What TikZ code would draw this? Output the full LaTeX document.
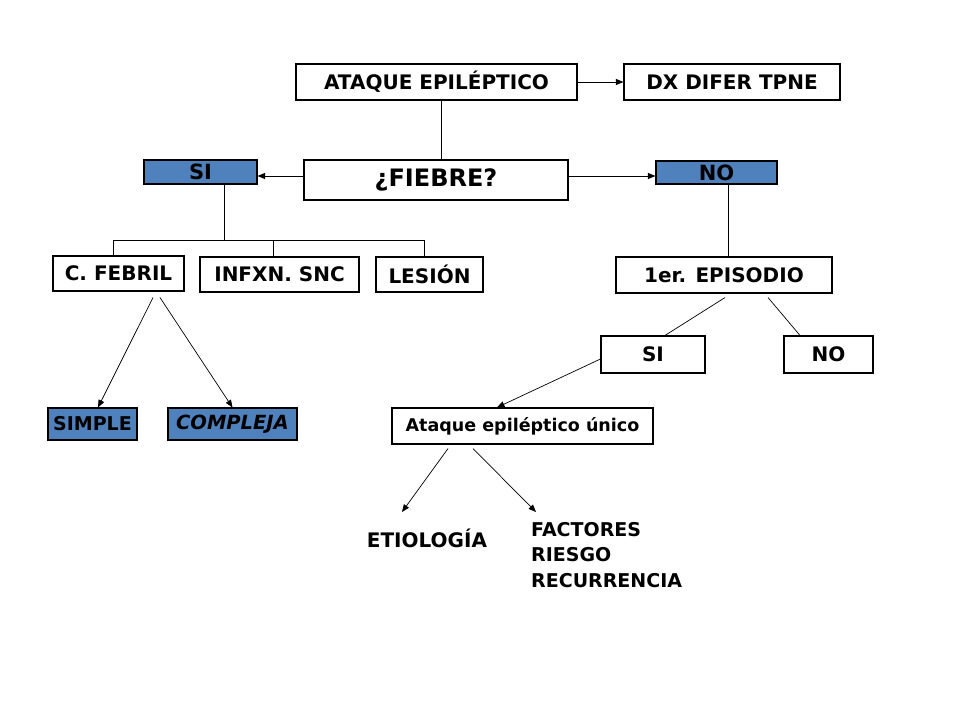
\documentclass[tikz,border=0pt]{standalone}
\usepackage{fontspec}
\setmainfont{DejaVu Sans}
\usetikzlibrary{arrows.meta}
\definecolor{boxblue}{RGB}{79,129,189}
\begin{document}
\begin{tikzpicture}[x=1pt,y=-1pt,
  box/.style={draw=black, line width=1.1pt, fill=white, inner sep=0pt,
    font=\bfseries\fontsize{20}{24}\selectfont},
  bluebox/.style={box, fill=boxblue},
  conn/.style={draw=black, line width=0.9pt},
  arr/.style={conn, -{Triangle[length=7.5pt,width=6pt]}},
  plain/.style={inner sep=0pt, font=\bfseries\fontsize{19}{25.5}\selectfont, align=left}]
\useasboundingbox[fill=white] (0,0) rectangle (960,720);

% nodes
\node[box, minimum width=281pt, minimum height=36pt] (ata) at (436.5,82) {ATAQUE EPILÉPTICO};
\node[box, minimum width=216pt, minimum height=36pt] (dx) at (732,82) {DX DIFER TPNE};
\node[box, minimum width=264pt, minimum height=40pt, font=\bfseries\fontsize{24}{28}\selectfont] (fie) at (436,180) {¿FIEBRE?};
\node[bluebox, minimum width=113pt, minimum height=24pt, font=\bfseries\fontsize{21}{24}\selectfont] (si1) at (200.5,172) {SI};
\node[bluebox, minimum width=121pt, minimum height=23pt, font=\bfseries\fontsize{21}{24}\selectfont] (no1) at (716.5,172.5) {NO};
\node[box, minimum width=131pt, minimum height=35pt] (feb) at (118.5,273.5) {C. FEBRIL};
\node[box, minimum width=159pt, minimum height=35pt] (inf) at (279.5,274.5) {INFXN. SNC};
\node[box, minimum width=107pt, minimum height=35pt] (les) at (429.5,274.5) {LESIÓN};
\node[box, minimum width=216pt, minimum height=36pt] (epi) at (724,275) {1er. EPISODIO};
\node[box, minimum width=104pt, minimum height=37pt] (si2) at (653,354.5) {SI};
\node[box, minimum width=89pt, minimum height=37pt] (no2) at (828.5,354.5) {NO};
\node[box, minimum width=261pt, minimum height=36pt, font=\bfseries\fontsize{17.5}{21}\selectfont] (uni) at (522.5,426) {Ataque epiléptico único};
\node[bluebox, minimum width=89pt, minimum height=32pt, font=\bfseries\fontsize{19}{24}\selectfont] (sim) at (92.5,424) {SIMPLE};
\node[bluebox, minimum width=129pt, minimum height=32pt, font=\bfseries\itshape\fontsize{19.5}{24}\selectfont] (com) at (232.5,424) {COMPLEJA};
\node[plain, font=\bfseries\fontsize{20}{24}\selectfont] (eti) at (427,538) {ETIOLOGÍA};
\node[plain, anchor=west] (fac) at (531,555) {FACTORES\\RIESGO\\RECURRENCIA};

% free ends and bus points
\coordinate (etiA) at (402,512);
\coordinate (facA) at (536,512);
\coordinate (busL) at (113,240);
\coordinate (busM) at (273,240);
\coordinate (busR) at (424,240);
\coordinate (busC) at (224,240);

% connectors
\draw[arr] (ata.east) -- (dx.west);
\draw[conn] ([xshift=4.5pt]ata.south) -- ([xshift=4.5pt]ata.south |- fie.north);
\draw[arr] ([shift={(0,-4)}]fie.west) -- ([shift={(0,-4)}]fie.west -| si1.east);
\draw[arr] ([shift={(0,-4)}]fie.east) -- ([shift={(0,-4)}]fie.east -| no1.west);
\draw[conn] (si1.south -| busC) -- (busC);
\draw[conn] (busL |- feb.north) -- (busL) -- (busR) -- (busR |- les.north);
\draw[conn] (busM) -- (busM |- inf.north);
\draw[conn] ([xshift=4pt]epi.north) -- ([xshift=4pt]epi.north |- no1.south);
\draw[conn, line width=0.7pt] ([shift={(1,4)}]epi.south) -- ([shift={(12,0)}]si2.north);
\draw[conn, line width=0.7pt] ([shift={(44,4)}]epi.south) -- ([shift={(-28.5,0)}]no2.north);
\draw[arr, line width=0.7pt] ([shift={(0,4.5)}]si2.west) -- ([shift={(-25.5,0)}]uni.north);
\draw[arr, line width=0.7pt] ([shift={(-74.5,4)}]uni.south) -- (etiA);
\draw[arr, line width=0.7pt] ([shift={(-49.5,4)}]uni.south) -- (facA);
\draw[arr, line width=0.7pt] ([shift={(34.5,6)}]feb.south) -- ([shift={(5.5,0)}]sim.north);
\draw[arr, line width=0.7pt] ([shift={(41.5,6)}]feb.south) -- (com.north);
\end{tikzpicture}
\end{document}
